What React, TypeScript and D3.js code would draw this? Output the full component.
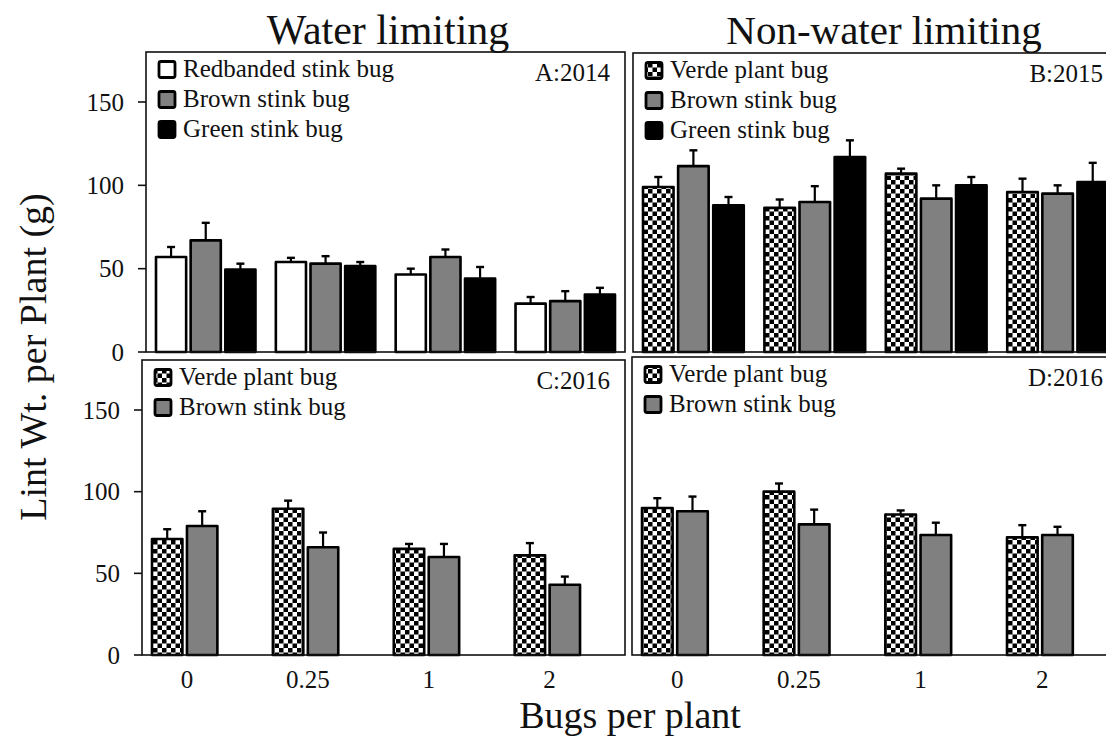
import React from "react";
import * as d3 from "d3";

// Bugs per plant (x categories)
const categories = ["0", "0.25", "1", "2"];
const yTickValues = [0, 50, 100, 150];

// A: 2014, water limiting
const redbandedA = [57, 54, 46.5, 29];
const redbandedAErr = [6, 2.5, 3.5, 4];
const brownA = [67, 53, 57, 30.5];
const brownAErr = [10.5, 4.5, 4.5, 6];
const greenA = [49.5, 51.5, 44, 34.5];
const greenAErr = [3.5, 2.5, 7, 4];

// B: 2015, non-water limiting
const verdeB = [99, 86.5, 107, 96];
const verdeBErr = [6, 5, 3, 8];
const brownB = [111.5, 90, 92, 95];
const brownBErr = [9.5, 9.5, 8, 5];
const greenB = [88, 117, 100, 102];
const greenBErr = [5, 10, 5, 11.5];

// C: 2016, water limiting
const verdeC = [71, 89.5, 65, 61];
const verdeCErr = [6, 5, 3, 7.5];
const brownC = [79, 66, 60, 43];
const brownCErr = [9, 9, 8, 5];

// D: 2016, non-water limiting
const verdeD = [90, 100, 86, 72];
const verdeDErr = [6, 5, 2.5, 7.5];
const brownD = [88, 80, 73.5, 73.5];
const brownDErr = [9, 9, 7.5, 5];

const FONT = "'Liberation Serif', 'Times New Roman', Times, serif";
const GRAY = "#808080";
const CHECK = "url(#checker)";

type Series = { name: string; fill: string; values: number[]; errs: number[] };
type Panel = {
  label: string;
  x0: number;
  x1: number;
  y0: number;
  y1: number;
  series: Series[];
  yAxis: boolean;
  xLabels: boolean;
};

const panels: Panel[] = [
  {
    label: "A:2014", x0: 146, x1: 625, y0: 52, y1: 352, yAxis: true, xLabels: false,
    series: [
      { name: "Redbanded stink bug", fill: "#ffffff", values: redbandedA, errs: redbandedAErr },
      { name: "Brown stink bug", fill: GRAY, values: brownA, errs: brownAErr },
      { name: "Green stink bug", fill: "#000000", values: greenA, errs: greenAErr },
    ],
  },
  {
    label: "B:2015", x0: 633, x1: 1118, y0: 53, y1: 352, yAxis: false, xLabels: false,
    series: [
      { name: "Verde plant bug", fill: CHECK, values: verdeB, errs: verdeBErr },
      { name: "Brown stink bug", fill: GRAY, values: brownB, errs: brownBErr },
      { name: "Green stink bug", fill: "#000000", values: greenB, errs: greenBErr },
    ],
  },
  {
    label: "C:2016", x0: 142, x1: 625, y0: 360, y1: 655, yAxis: true, xLabels: true,
    series: [
      { name: "Verde plant bug", fill: CHECK, values: verdeC, errs: verdeCErr },
      { name: "Brown stink bug", fill: GRAY, values: brownC, errs: brownCErr },
    ],
  },
  {
    label: "D:2016", x0: 632, x1: 1118, y0: 357, y1: 655, yAxis: false, xLabels: true,
    series: [
      { name: "Verde plant bug", fill: CHECK, values: verdeD, errs: verdeDErr },
      { name: "Brown stink bug", fill: GRAY, values: brownD, errs: brownDErr },
    ],
  },
];

function PanelView({ p }: { p: Panel }) {
  // top row: 150 units over 250 px; bottom row: 150 units over 245 px
  const pxPerUnit = p.y1 === 352 ? 250 / 150 : 245 / 150;
  const y = d3.scaleLinear().domain([0, 180]).range([p.y1, p.y1 - 180 * pxPerUnit]);
  const x = d3.scaleBand<string>().domain(categories).range([p.x0 + 10, p.x1 - 10]).paddingInner(0.17).paddingOuter(0);
  const slot = d3.scaleBand<number>().domain([0, 1, 2]).range([0, x.bandwidth()]).paddingInner(0.13);
  const bw = slot.bandwidth();
  const legendX = p.x0 + 12;
  const legendBase = p.y0 + 24.5;
  const labelRight = Math.min(p.x1 - 15, 1103);

  return (
    <g>
      {p.series.map((s, si) =>
        s.values.map((v, ci) => {
          const bx = (x(categories[ci]) as number) + (slot(si) as number);
          const top = y(v);
          const et = y(v + s.errs[ci]);
          const cx = bx + bw / 2;
          return (
            <g key={`${si}-${ci}`}>
              <line x1={cx} x2={cx} y1={top} y2={et} stroke="#000" strokeWidth={2.2} />
              <line x1={cx - 4} x2={cx + 4} y1={et} y2={et} stroke="#000" strokeWidth={2.4} />
              <rect x={bx} y={top} width={bw} height={p.y1 - top} fill={s.fill}
                stroke="#000" strokeWidth={2.6} strokeLinejoin="round" />
            </g>
          );
        })
      )}

      <rect x={p.x0} y={p.y0} width={p.x1 - p.x0} height={p.y1 - p.y0} fill="none" stroke="#111" strokeWidth={1.6} />

      {p.series.map((s, si) => (
        <g key={s.name}>
          <rect x={legendX + 1} y={legendBase + si * 30 - 15} width={16} height={16} rx={2}
            fill={s.fill} stroke="#000" strokeWidth={2.8} />
          <text x={p.x0 + 37} y={legendBase + si * 30} fontSize={25} fontFamily={FONT} fill="#111">{s.name}</text>
        </g>
      ))}

      <text x={labelRight} y={p.y0 + 29} textAnchor="end" fontSize={25} fontFamily={FONT} fill="#111">{p.label}</text>

      {p.yAxis &&
        yTickValues.map((t) => (
          <g key={t}>
            <line x1={p.x0 - 8} x2={p.x0} y1={y(t)} y2={y(t)} stroke="#111" strokeWidth={1.6} />
            <text x={p.x0 - 22} y={y(t)} dy="0.34em" textAnchor="end" fontSize={25} fontFamily={FONT} fill="#111">{t}</text>
          </g>
        ))}

      {p.xLabels &&
        categories.map((c) => (
          <text key={c} x={(x(c) as number) + (slot(1) as number)} y={p.y1 + 33} textAnchor="middle"
            fontSize={25} fontFamily={FONT} fill="#111">{c}</text>
        ))}
    </g>
  );
}

export default function App() {
  return (
    <svg width={1106} height={742} style={{ position: "absolute", left: 0, top: 0, background: "#fff" }}>
      <defs>
        <pattern id="checker" width={9} height={9} patternUnits="userSpaceOnUse">
          <rect width={9} height={9} fill="#fff" />
          <rect width={4.5} height={4.5} fill="#000" />
          <rect x={4.5} y={4.5} width={4.5} height={4.5} fill="#000" />
        </pattern>
      </defs>
      <rect width={1106} height={742} fill="#fff" />
      {panels.map((p) => (
        <PanelView key={p.label} p={p} />
      ))}
      <text x={388} y={44} textAnchor="middle" fontSize={42} fontFamily={FONT} fill="#111">Water limiting</text>
      <text x={884} y={44} textAnchor="middle" fontSize={41} fontFamily={FONT} fill="#111">Non-water limiting</text>
      <text transform="translate(46,357) rotate(-90)" textAnchor="middle" fontSize={38} fontFamily={FONT} fill="#111">Lint Wt. per Plant (g)</text>
      <text x={630} y={728} textAnchor="middle" fontSize={38} fontFamily={FONT} fill="#111">Bugs per plant</text>
    </svg>
  );
}
